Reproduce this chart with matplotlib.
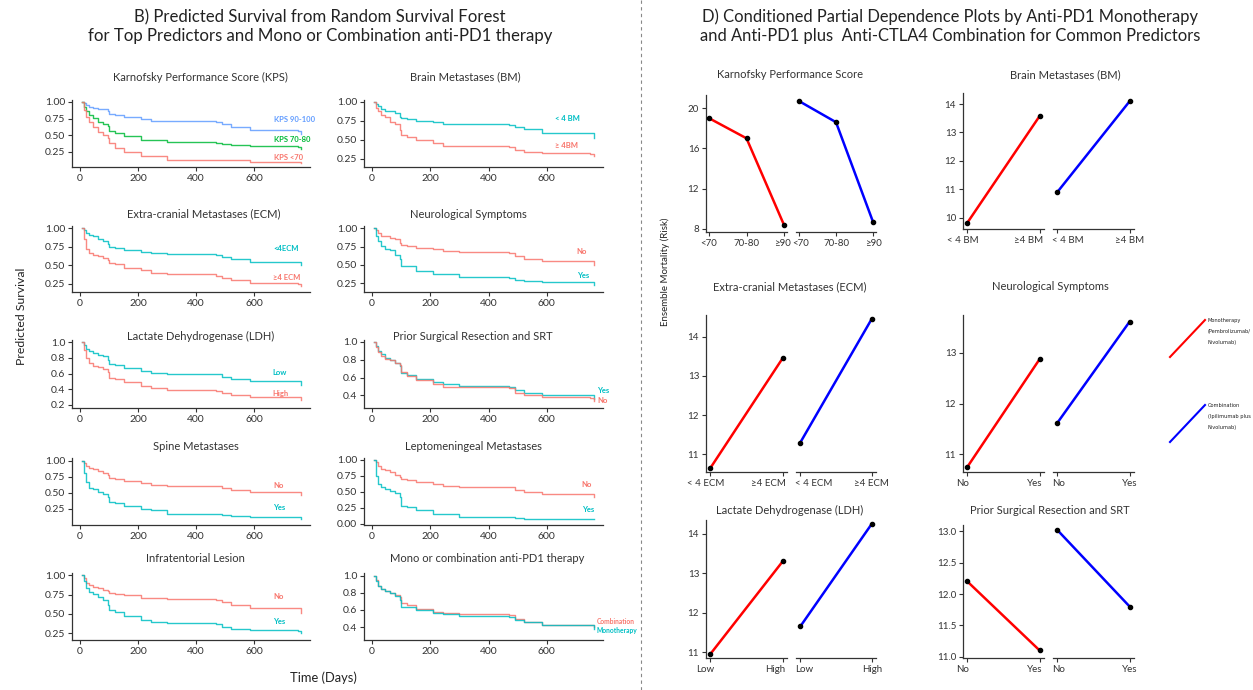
import matplotlib
matplotlib.use("Agg")
import matplotlib.pyplot as plt
from matplotlib.lines import Line2D
import matplotlib.transforms as mtransforms
from matplotlib import font_manager
from matplotlib.font_manager import FontProperties

plt.rcParams['font.family'] = ['Lato', 'DejaVu Sans']

W, H = 1253, 690

# ---- B) survival curves from the random survival forest ----
days = [5, 12, 20, 30, 45, 60, 80, 95, 100, 120, 150, 210, 245, 300, 470, 490, 520, 585, 750, 762]

kps_90_100 = [1.0, 0.98, 0.96, 0.93, 0.91, 0.90, 0.89, 0.86, 0.82, 0.81, 0.77, 0.74, 0.72, 0.71, 0.70, 0.67, 0.62, 0.58, 0.57, 0.52]
kps_70_80 = [1.0, 0.93, 0.86, 0.80, 0.76, 0.70, 0.67, 0.64, 0.57, 0.53, 0.49, 0.43, 0.42, 0.39, 0.38, 0.37, 0.35, 0.33, 0.32, 0.29]
kps_lt70 = [1.0, 0.88, 0.78, 0.70, 0.62, 0.55, 0.50, 0.46, 0.38, 0.30, 0.24, 0.19, 0.18, 0.13, 0.13, 0.12, 0.12, 0.10, 0.10, 0.08]
bm_lt4 = [1.0, 0.97, 0.94, 0.90, 0.88, 0.87, 0.85, 0.80, 0.78, 0.77, 0.74, 0.73, 0.71, 0.70, 0.69, 0.67, 0.64, 0.59, 0.58, 0.52]
bm_ge4 = [1.0, 0.92, 0.87, 0.82, 0.80, 0.73, 0.70, 0.62, 0.56, 0.54, 0.50, 0.46, 0.42, 0.41, 0.40, 0.36, 0.34, 0.32, 0.31, 0.28]
ecm_lt4 = [1.0, 0.97, 0.94, 0.91, 0.90, 0.86, 0.83, 0.79, 0.75, 0.74, 0.71, 0.68, 0.66, 0.65, 0.64, 0.61, 0.58, 0.55, 0.55, 0.50]
ecm_ge4 = [1.0, 0.85, 0.72, 0.66, 0.64, 0.62, 0.60, 0.57, 0.53, 0.52, 0.47, 0.43, 0.40, 0.38, 0.36, 0.33, 0.30, 0.26, 0.25, 0.22]
neuro_no = [1.0, 0.98, 0.93, 0.90, 0.89, 0.87, 0.85, 0.80, 0.77, 0.76, 0.73, 0.71, 0.69, 0.67, 0.66, 0.62, 0.58, 0.55, 0.55, 0.50]
neuro_yes = [1.0, 0.90, 0.82, 0.76, 0.72, 0.70, 0.64, 0.58, 0.49, 0.48, 0.42, 0.38, 0.37, 0.33, 0.32, 0.30, 0.28, 0.27, 0.27, 0.23]
ldh_low = [1.0, 0.96, 0.92, 0.89, 0.87, 0.84, 0.82, 0.77, 0.72, 0.71, 0.67, 0.63, 0.61, 0.60, 0.59, 0.56, 0.53, 0.50, 0.50, 0.45]
ldh_high = [1.0, 0.90, 0.80, 0.74, 0.70, 0.68, 0.66, 0.62, 0.55, 0.53, 0.49, 0.44, 0.42, 0.39, 0.38, 0.35, 0.33, 0.30, 0.30, 0.26]
srt_yes = [1.0, 0.95, 0.90, 0.86, 0.82, 0.80, 0.76, 0.73, 0.65, 0.63, 0.58, 0.55, 0.53, 0.51, 0.50, 0.46, 0.43, 0.41, 0.40, 0.36]
srt_no = [1.0, 0.94, 0.89, 0.84, 0.81, 0.80, 0.76, 0.74, 0.66, 0.62, 0.57, 0.53, 0.50, 0.49, 0.48, 0.43, 0.40, 0.38, 0.37, 0.34]
spine_no = [1.0, 0.97, 0.92, 0.89, 0.87, 0.84, 0.80, 0.77, 0.73, 0.71, 0.68, 0.65, 0.62, 0.61, 0.60, 0.57, 0.54, 0.52, 0.51, 0.46]
spine_yes = [1.0, 0.80, 0.66, 0.58, 0.56, 0.52, 0.48, 0.44, 0.36, 0.34, 0.30, 0.25, 0.24, 0.17, 0.17, 0.15, 0.14, 0.13, 0.12, 0.10]
lepto_no = [1.0, 0.96, 0.90, 0.86, 0.84, 0.81, 0.77, 0.74, 0.70, 0.68, 0.65, 0.62, 0.59, 0.58, 0.57, 0.53, 0.50, 0.47, 0.47, 0.42]
lepto_yes = [1.0, 0.75, 0.62, 0.58, 0.55, 0.52, 0.48, 0.42, 0.27, 0.26, 0.21, 0.16, 0.15, 0.10, 0.10, 0.09, 0.08, 0.07, 0.07, 0.07]
infra_no = [1.0, 0.96, 0.90, 0.87, 0.85, 0.83, 0.81, 0.80, 0.77, 0.76, 0.74, 0.71, 0.70, 0.69, 0.68, 0.65, 0.61, 0.57, 0.57, 0.51]
infra_yes = [1.0, 0.92, 0.84, 0.78, 0.76, 0.72, 0.68, 0.62, 0.55, 0.53, 0.47, 0.42, 0.40, 0.38, 0.37, 0.33, 0.30, 0.29, 0.28, 0.25]
combo = [1.0, 0.95, 0.88, 0.84, 0.82, 0.80, 0.77, 0.75, 0.68, 0.66, 0.61, 0.58, 0.56, 0.55, 0.54, 0.49, 0.46, 0.43, 0.43, 0.40]
mono = [1.0, 0.94, 0.88, 0.84, 0.82, 0.80, 0.76, 0.72, 0.64, 0.63, 0.60, 0.56, 0.55, 0.53, 0.52, 0.48, 0.46, 0.42, 0.42, 0.38]

# ---- D) partial dependence values (ensemble mortality) ----
pd_kps_cats = ['<70', '70-80', '≥90']
pd_kps_mono = [19.0, 17.0, 8.4]
pd_kps_combo = [20.7, 18.6, 8.7]
pd_bm_cats = ['< 4 BM', '≥4 BM']
pd_bm_mono = [9.82, 13.58]
pd_bm_combo = [10.9, 14.1]
pd_ecm_cats = ['< 4 ECM', '≥4 ECM']
pd_ecm_mono = [10.65, 13.45]
pd_ecm_combo = [11.3, 14.45]
pd_neuro_cats = ['No', 'Yes']
pd_neuro_mono = [10.75, 12.88]
pd_neuro_combo = [11.62, 13.62]
pd_ldh_cats = ['Low', 'High']
pd_ldh_mono = [10.95, 13.3]
pd_ldh_combo = [11.65, 14.25]
pd_srt_cats = ['No', 'Yes']
pd_srt_mono = [12.2, 11.1]
pd_srt_combo = [13.02, 11.8]

SALMON = '#F8766D'
TEAL = '#00BFC4'
GREEN = '#00BA38'
BLUE = '#619CFF'
INK = '#333333'


def narrow_font():
    # a condensed regular face if the machine has one, otherwise Lato
    for f in font_manager.fontManager.ttflist:
        condensed = 'ondensed' in f.name or 'condensed' in str(f.stretch)
        regular = str(f.weight) in ('400', 'normal', 'regular') and f.style == 'normal'
        if condensed and regular and 'Sans' in f.name:
            return FontProperties(fname=f.fname)
    return FontProperties(family='Lato')


fig = plt.figure(figsize=(W / 100, H / 100), dpi=100)


def px_axes(x0, y0, x1, y1):
    return fig.add_axes([x0 / W, 1 - y1 / H, (x1 - x0) / W, (y1 - y0) / H])


def shift(label, dx):
    label.set_transform(label.get_transform() +
                        mtransforms.ScaledTranslation(dx / 100, 0, fig.dpi_scale_trans))


def style(ax, left=True, size=7.5):
    for s in ['top', 'right']:
        ax.spines[s].set_visible(False)
    for s in ['left', 'bottom']:
        ax.spines[s].set_color(INK)
        ax.spines[s].set_linewidth(0.9)
    if not left:
        ax.spines['left'].set_visible(False)
        ax.set_yticks([])
    ax.tick_params(colors=INK, labelsize=size, length=3, width=0.8, pad=2)
    ax.patch.set_alpha(0)


# survival panels: (curves, title, yticks, ylim, title x, tick format)
col_x = [(72, 310), (364, 603)]
row_y = [(100, 167), (226, 292), (340, 408), (458, 525), (573, 640)]
title_y = [77, 214, 336, 447, 559]

km_panels = [
    ([(kps_90_100, BLUE, 'KPS 90-100', 670, 0.74), (kps_70_80, GREEN, 'KPS 70-80', 670, 0.43),
      (kps_lt70, SALMON, 'KPS <70', 670, 0.17)],
     'Karnofsky Performance Score (KPS)', [0.25, 0.5, 0.75, 1.0], (0.02, 1.03), 200, '%.2f'),
    ([(bm_lt4, TEAL, '< 4 BM', 628, 0.775), (bm_ge4, SALMON, '≥ 4BM', 628, 0.42)],
     'Brain Metastases (BM)', [0.25, 0.5, 0.75, 1.0], (0.14, 1.02), 465, '%.2f'),
    ([(ecm_lt4, TEAL, '<4ECM', 665, 0.73), (ecm_ge4, SALMON, '≥4 ECM', 665, 0.33)],
     'Extra-cranial Metastases (ECM)', [0.25, 0.5, 0.75, 1.0], (0.14, 1.03), 204, '%.2f'),
    ([(neuro_no, SALMON, 'No', 703, 0.68), (neuro_yes, TEAL, 'Yes', 703, 0.36)],
     'Neurological Symptoms', [0.25, 0.5, 0.75, 1.0], (0.13, 1.03), 468, '%.2f'),
    ([(ldh_low, TEAL, 'Low', 662, 0.62), (ldh_high, SALMON, 'High', 662, 0.35)],
     'Lactate Dehydrogenase (LDH)', [0.2, 0.4, 0.6, 0.8, 1.0], (0.16, 1.03), 201, '%.1f'),
    ([(srt_yes, TEAL, 'Yes', 772, 0.46), (srt_no, SALMON, 'No', 772, 0.34)],
     'Prior Surgical Resection and SRT', [0.4, 0.6, 0.8, 1.0], (0.26, 1.02), 473, '%.1f'),
    ([(spine_no, SALMON, 'No', 665, 0.62), (spine_yes, TEAL, 'Yes', 665, 0.27)],
     'Spine Metastases', [0.25, 0.5, 0.75, 1.0], (0.0, 1.04), 196, '%.2f'),
    ([(lepto_no, SALMON, 'No', 720, 0.61), (lepto_yes, TEAL, 'Yes', 720, 0.23)],
     'Leptomeningeal Metastases', [0.0, 0.25, 0.5, 0.75, 1.0], (-0.02, 1.03), 473, '%.2f'),
    ([(infra_no, SALMON, 'No', 665, 0.73), (infra_yes, TEAL, 'Yes', 665, 0.40)],
     'Infratentorial Lesion', [0.25, 0.5, 0.75, 1.0], (0.16, 1.03), 195, '%.2f'),
    ([(combo, SALMON, 'Combination', 772, 0.47), (mono, TEAL, 'Monotherapy', 772, 0.36)],
     'Mono or combination anti-PD1 therapy', [0.4, 0.6, 0.8, 1.0], (0.25, 1.03), 487, '%.1f'),
]

for i, (curves, title, yticks, ylim, tx, fmt) in enumerate(km_panels):
    r, c = divmod(i, 2)
    x0, x1 = col_x[c]
    y0, y1 = row_y[r]
    ax = px_axes(x0, y0, x1, y1)
    style(ax)
    for surv, color, label, lx, ly in curves:
        ax.step(days, surv, where='post', color=color, lw=1.0, alpha=0.85)
        ax.text(lx, ly, label, color=color, fontsize=5.5 if len(label) < 11 else 4.8,
                fontweight='bold', va='center', ha='left', clip_on=False)
    ax.set_xlim(-28, 793)
    ax.set_ylim(*ylim)
    ax.set_xticks([0, 200, 400, 600])
    ax.set_yticks(yticks)
    ax.set_yticklabels([fmt % v for v in yticks])
    fig.text(tx / W, 1 - title_y[r] / H, title, ha='center', va='center',
             fontsize=8, color=INK)

fig.text(22 / W, 1 - 316 / H, 'Predicted Survival', rotation=90, ha='center',
         va='center', fontsize=8.8, color='#222222')
fig.text(323 / W, 1 - 678 / H, 'Time (Days)', ha='center', va='center',
         fontsize=9.3, color='#222222')

fig.text(320 / W, 1 - 17 / H, 'B) Predicted Survival from Random Survival Forest',
         ha='center', va='center', fontsize=12.1, color='#222222')
fig.text(320 / W, 1 - 36 / H, 'for Top Predictors and Mono or Combination anti-PD1 therapy',
         ha='center', va='center', fontsize=12.1, color='#222222')

# ---- D) partial dependence panels ----
pd_panels = [
    (pd_kps_cats, pd_kps_mono, pd_kps_combo, 'Karnofsky Performance Score',
     [8, 12, 16, 20], (7.7, 21.3), (706, 787, 796, 876), (95, 232), 790, 75),
    (pd_bm_cats, pd_bm_mono, pd_bm_combo, 'Brain Metastases (BM)',
     [10, 11, 12, 13, 14], (9.6, 14.39), (963, 1044, 1053, 1134), (93, 229), 1065, 75),
    (pd_ecm_cats, pd_ecm_mono, pd_ecm_combo, 'Extra-cranial Metastases (ECM)',
     [11, 12, 13, 14], (10.55, 14.55), (706, 787, 796, 876), (315, 472), 790, 287),
    (pd_neuro_cats, pd_neuro_mono, pd_neuro_combo, 'Neurological Symptoms',
     [11, 12, 13], (10.65, 13.75), (963, 1044, 1053, 1134), (315, 472), 1050, 287),
    (pd_ldh_cats, pd_ldh_mono, pd_ldh_combo, 'Lactate Dehydrogenase (LDH)',
     [11, 12, 13, 14], (10.85, 14.35), (706, 787, 796, 876), (520, 658), 790, 510),
    (pd_srt_cats, pd_srt_mono, pd_srt_combo, 'Prior Surgical Resection and SRT',
     [11.0, 11.5, 12.0, 12.5, 13.0], (10.98, 13.1), (963, 1044, 1053, 1134), (525, 658), 1050, 510),
]

for cats, mono_v, combo_v, title, yticks, ylim, xs, ys, tx, ty in pd_panels:
    n = len(cats)
    pos = list(range(1, n + 1))
    pad = 0.08 if n == 3 else 0.06
    for k, (vals, color) in enumerate([(mono_v, '#FF0000'), (combo_v, '#0000FF')]):
        ax = px_axes(xs[2 * k], ys[0], xs[2 * k + 1], ys[1])
        style(ax, left=(k == 0), size=7)
        ax.plot(pos, vals, color=color, lw=1.8, zorder=2)
        ax.scatter(pos, vals, s=9, color='black', zorder=3)
        ax.set_xlim(1 - pad, n + pad)
        ax.set_ylim(*ylim)
        ax.set_xticks(pos)
        ax.set_xticklabels(cats)
        if k == 0:
            ax.set_yticks(yticks)
            if isinstance(yticks[0], float):
                ax.set_yticklabels(['%.1f' % v for v in yticks])
        labs = ax.get_xticklabels()
        # labels next to the gap between the two halves sit inward
        if n == 2:
            if k == 0:
                shift(labs[0], -5)
                labs[1].set_horizontalalignment('right')
                shift(labs[1], 3)
            else:
                labs[0].set_horizontalalignment('left')
                shift(labs[0], -5)
        else:
            if k == 0:
                shift(labs[-1], -2)
            else:
                shift(labs[0], 2)
    fig.text(tx / W, 1 - ty / H, title, ha='center', va='center', fontsize=8, color=INK)

fig.text(665 / W, 1 - 272 / H, 'Ensemble Mortality (Risk)', rotation=90,
         ha='center', va='center', fontsize=7, color='#222222')

fig.text(950 / W, 1 - 17 / H, 'D) Conditioned Partial Dependence Plots by Anti-PD1 Monotherapy',
         ha='center', va='center', fontsize=11.9, color='#222222')
fig.text(950 / W, 1 - 36 / H, 'and Anti-PD1 plus  Anti-CTLA4 Combination for Common Predictors',
         ha='center', va='center', fontsize=11.9, color='#222222')

# legend drawn as free lines and text
fig.add_artist(Line2D([1170 / W, 1205 / W], [1 - 357 / H, 1 - 320 / H], color='#FF0000', lw=1.5))
fig.add_artist(Line2D([1170 / W, 1205 / W], [1 - 442 / H, 1 - 405 / H], color='#0000FF', lw=1.5))
note_font = narrow_font()
notes = [
    fig.text(1208 / W, 1 - 318 / H, 'Monotherapy\n(Pembrolizumab/\nNivolumab)', ha='left', va='top',
             fontproperties=note_font, color='#222222', linespacing=1.6),
    fig.text(1208 / W, 1 - 403 / H, 'Combination\n(Ipilimumab plus\nNivolumab)', ha='left', va='top',
             fontproperties=note_font, color='#222222', linespacing=1.6),
]
# keep the notes inside the right edge
renderer = fig.canvas.get_renderer()
for t in notes:
    t.set_fontsize(6.5)
    while t.get_window_extent(renderer).x1 > W - 1 and t.get_fontsize() > 3:
        t.set_fontsize(t.get_fontsize() - 0.1)
    t.set_linespacing(1.6 * 6.5 / t.get_fontsize())

# divider between the two halves
fig.add_artist(Line2D([641 / W, 641 / W], [0, 1], color='#888888', lw=0.8, linestyle=(0, (3, 3))))

fig.savefig('out.png', dpi=100)
